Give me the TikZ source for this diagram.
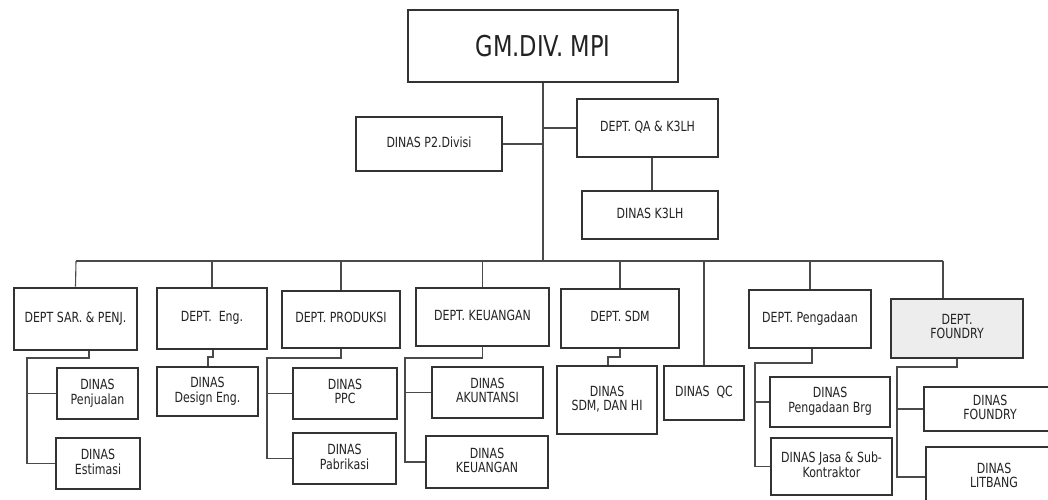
\documentclass[tikz,border=0pt]{standalone}
\usepackage{fontspec}
\setmainfont{DejaVu Sans}
\usepackage{graphicx}
\definecolor{boxc}{HTML}{333333}
\definecolor{linkc}{HTML}{4A4A4A}
\definecolor{txtc}{HTML}{222222}
\definecolor{fdyfill}{HTML}{EDEDED}
\newcommand{\lbl}[1]{\scalebox{1}[1.27]{\fontsize{11}{10.5}\selectfont\begin{tabular}{@{}c@{}}#1\end{tabular}}}
\newcommand{\bx}[7][]{\node[box,#1,minimum width={#5-#3},minimum height={#6-#4}] (#2) at ({(#3+#5)/2},{(#4+#6)/2}) {\lbl{#7}};}
\tikzset{
  box/.style={draw=boxc,line width=2.6pt,rectangle,inner sep=0pt,text=txtc},
  link/.style={draw=linkc,line width=1.1pt}
}
\begin{document}
\begin{tikzpicture}[x=1pt,y=-1pt]
\useasboundingbox (0,0) rectangle (1048,499);
\fill[white] (0,0) rectangle (1048,499);
\clip (0,0) rectangle (1048,499);
% top
\node[box,minimum width=270,minimum height=72] (gm) at (543,46)
  {\scalebox{1}[1.27]{\fontsize{22.6}{24}\selectfont GM.DIV. MPI}};
\bx{p2}{356}{117}{502}{171}{DINAS P2.Divisi}
\bx{qa}{577}{99}{718}{157}{DEPT. QA \& K3LH}
\bx{k3}{582}{191}{718}{239}{DINAS K3LH}
% departments
\bx{sar}{14}{288}{137}{350}{DEPT SAR. \& PENJ.}
\bx{eng}{157}{288}{267}{349}{DEPT.\ \ Eng.}
\bx{pro}{282}{291}{400}{348}{DEPT. PRODUKSI}
\bx{keu}{416}{288}{549}{346}{DEPT. KEUANGAN}
\bx{sdm}{561}{289}{679}{348}{DEPT. SDM}
\bx{qc}{664}{366}{744}{420}{DINAS\ \ QC}
\bx{pgd}{749}{290}{871}{348}{DEPT. Pengadaan}
\bx[fill=fdyfill]{fdy}{891}{299}{1023}{358}{DEPT.\\FOUNDRY}
% dinas
\bx{pen}{57}{368}{138}{419}{DINAS\\Penjualan}
\bx{est}{56}{438}{140}{489}{DINAS\\Estimasi}
\bx{des}{157}{367}{258}{416}{DINAS\\Design Eng.}
\bx{ppc}{293}{368}{397}{419}{DINAS\\PPC}
\bx{pab}{293}{433}{396}{484}{DINAS\\Pabrikasi}
\bx{aku}{432}{367}{543}{418}{DINAS\\AKUNTANSI}
\bx{dkeu}{426}{436}{548}{488}{DINAS\\KEUANGAN}
\bx{sdmhi}{557}{366}{657}{434}{DINAS\\SDM, DAN HI}
\bx{brg}{770}{377}{890}{427}{DINAS\\Pengadaan Brg}
\bx{jasa}{771}{438}{892}{495}{DINAS Jasa \& Sub-\\Kontraktor}
\bx{dfdy}{924}{387}{1056}{431}{DINAS\\FOUNDRY}
\bx{lit}{926}{447}{1062}{507}{DINAS\\LITBANG}
% bus coordinates
\coordinate (busL) at (76,261);
\coordinate (busR) at (943,261);
% connectors top
\draw[link] (gm.south) -- (gm.south |- busL);
\draw[link] (p2.east) -- (gm.south |- p2.east);
\draw[link] (qa.west) -- (gm.south |- qa.west);
\draw[link] (652,0 |- qa.south) -- (652,0 |- k3.north);
\draw[link] (busL) -- (busR);
% drops
\draw[link] (busL) -- (sar.north);
\draw[link] (eng.north |- busL) -- (eng.north);
\draw[link] (pro.north |- busL) -- (pro.north);
\draw[link] (keu.north |- busL) -- (keu.north);
\draw[link] (sdm.north |- busL) -- (sdm.north);
\draw[link] (qc.north |- busL) -- (qc.north);
\draw[link] (pgd.north |- busL) -- (pgd.north);
\draw[link] (busR) -- (busR |- fdy.north);
% sub connectors
\draw[link] (89,0 |- sar.south) -- (89,358) -- (27,358) -- (27,0 |- est.west) -- (est.west);
\draw[link] (27,0 |- pen.west) -- (pen.west);
\draw[link] (213,0 |- eng.south) -- (213,357) -- (208,357) -- (208,0 |- des.north);
\draw[link] (pro.south) -- (341,358) -- (267,358) -- (267,0 |- pab.west) -- (pab.west);
\draw[link] (267,0 |- ppc.west) -- (ppc.west);
\draw[link] (keu.south) -- (keu.south |- 0,358) -- (405,358) -- (405,0 |- dkeu.west) -- (dkeu.west);
\draw[link] (405,0 |- aku.west) -- (aku.west);
\draw[link] (sdm.south) -- (620,357) -- (608,357) -- (608,0 |- sdmhi.north);
\draw[link] (812,0 |- pgd.south) -- (812,363) -- (755,363) -- (755,0 |- jasa.west) -- (jasa.west);
\draw[link] (755,0 |- brg.west) -- (brg.west);
\draw[link] (957,0 |- fdy.south) -- (957,367) -- (897,367) -- (897,0 |- lit.west) -- (lit.west);
\draw[link] (897,0 |- dfdy.west) -- (dfdy.west);
\end{tikzpicture}
\end{document}
